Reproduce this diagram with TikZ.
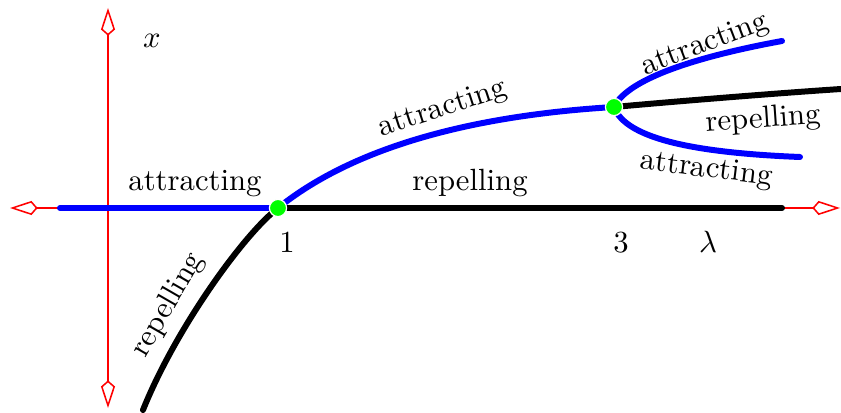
\documentclass[tikz,border=0pt]{standalone}
\usetikzlibrary{arrows.meta}
\begin{document}
\begin{tikzpicture}[x=0.3257pt,y=-0.3257pt,
  tipk/.tip={Kite[open,length=9pt,width=4.6pt,inset=2pt]},
  axis/.style={red, line width=0.5pt, tipk-tipk},
  branch/.style={line width=1.95pt, line cap=round},
  att/.style={branch, blue},
  rep/.style={branch, black},
  fixpt/.style={circle, fill=green, draw=white, line width=0.4pt, inner sep=0pt, minimum size=5.6pt},
  lbl/.style={inner sep=0pt}]
\useasboundingbox (0,0) rectangle (841,413);
% axes
\coordinate (xl) at (10,208);
\coordinate (xr) at (840,208);
\coordinate (yt) at (108,8);
\coordinate (yb) at (108,408);
\draw[axis] (xl) -- (xr);
\draw[axis] (yb) -- (yt);
% points
\coordinate (p1) at (278,208);
\coordinate (p3) at (614,107);
\coordinate (a0) at (60,208);
\coordinate (r0) at (782,208);
\coordinate (lowend) at (143,410);
\coordinate (rend) at (841,89);
\coordinate (upend) at (782,41);
\coordinate (dnend) at (800,157);
% branches
\draw[att] (a0) -- (p1);
\draw[rep] (p1) -- (r0);
\draw[rep] (p1) .. controls (243,235) and (175,330) .. (lowend);
\draw[att] (p1) .. controls (350,150) and (464,116) .. (p3);
\draw[rep] (p3) .. controls (680,101) and (780,93) .. (rend);
\draw[att] (p3) .. controls (628,78) and (700,56) .. (upend);
\draw[att] (p3) .. controls (626,140) and (700,153) .. (dnend);
% fixed points
\node[fixpt] (f1) at (p1) {};
\node[fixpt] (f3) at (p3) {};
% labels
\node[lbl, anchor=base] (lx) at (152,48) {$x$};
\node[lbl, anchor=base] (l1) at (287,252) {$1$};
\node[lbl, anchor=base] (l3) at (621,252) {$3$};
\node[lbl, anchor=base] (ll) at (708,252) {$\lambda$};
\node[lbl, anchor=base] (t1) at (195,191) {attracting};
\node[lbl, anchor=base] (t2) at (470,191) {repelling};
\node[lbl, rotate=18] (t3) at (443,109) {attracting};
\node[lbl, rotate=21] (t4) at (705,45) {attracting};
\node[lbl, rotate=4] (t5) at (763,120) {repelling};
\node[lbl, rotate=-7] (t6) at (706,170) {attracting};
\node[lbl, rotate=60] (t7) at (168,305) {repelling};
\end{tikzpicture}
\end{document}
